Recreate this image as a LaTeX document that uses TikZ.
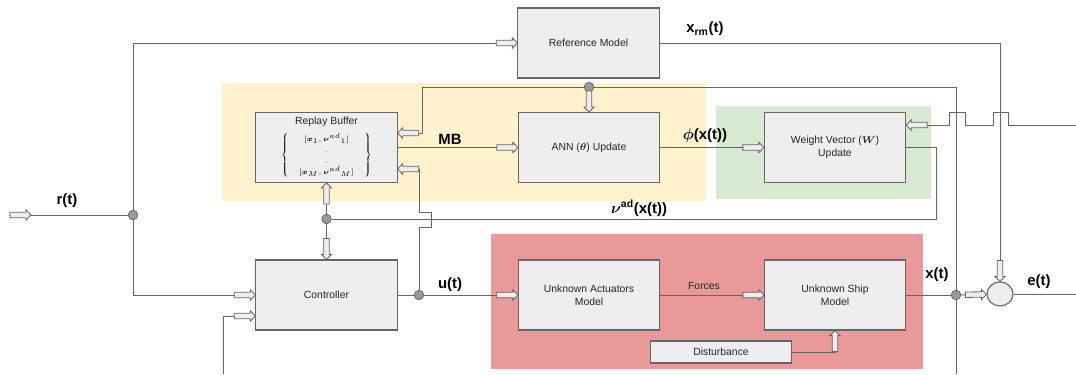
\documentclass[tikz,border=0pt]{standalone}
\usepackage{fontspec}
\setmainfont{Liberation Sans}
\usepackage{amsmath,bm}
\usetikzlibrary{shapes.geometric,decorations.markings,calc}
\definecolor{boxgray}{HTML}{EEEEEE}
\definecolor{linegray}{HTML}{666666}
\definecolor{dotgray}{HTML}{999999}
\definecolor{yelbg}{HTML}{FFF2CC}
\definecolor{grnbg}{HTML}{D9EAD3}
\definecolor{redbg}{HTML}{EA9999}
\tikzset{
  arrbody/.style={draw=linegray,fill=boxgray,line width=0.6pt},
  harr/.style={postaction={decorate,decoration={markings,mark=at position 1 with {\draw[arrbody] (-21,-2.7) -- (-5,-2.7) -- (-5,-5.2) -- (0,0) -- (-5,5.2) -- (-5,2.7) -- (-21,2.7) -- cycle;}}}},
  harrs/.style={postaction={decorate,decoration={markings,mark=at position 0.55cm with {\draw[arrbody] (-21,-2.7) -- (-5,-2.7) -- (-5,-5.2) -- (0,0) -- (-5,5.2) -- (-5,2.7) -- (-21,2.7) -- cycle;}}}}
}
\begin{document}
\begin{tikzpicture}[x=0.025cm,y=-0.025cm,
  blk/.style={draw=linegray,line width=0.8pt,fill=boxgray,minimum width=3.53cm,minimum height=1.75cm,align=center,inner sep=1pt,font=\fontsize{7.4}{9}\selectfont,text=black!85},
  wire/.style={draw=linegray,line width=0.7pt},
  jn/.style={circle,draw=linegray,fill=dotgray,line width=0.5pt,minimum size=0.24cm,inner sep=0},
  lbl/.style={font=\fontsize{10.6}{12}\selectfont\bfseries,inner sep=0},
  small/.style={font=\fontsize{7.4}{9}\selectfont,text=black!85,inner sep=0}]
\useasboundingbox (0,0) rectangle (1076,374);

\fill[yelbg] (222,83) rectangle (706,201);
\fill[grnbg] (716,106) rectangle (931,199);
\fill[redbg] (491,234) rectangle (923,369);

\node[blk] (refm) at (588.5,43) {Reference Model};
\node[blk] (rb) at (326.5,147.5) {};
\node[small] (rbt) at ($(rb.north)+(0,10)$) {Replay Buffer};
\node[inner sep=0,font=\fontsize{5.2}{6}\selectfont] (rbm) at ($(rb.center)+(0,8)$) {$\left\{\,\,\renewcommand{\arraystretch}{1.3}\begin{array}{c}[\boldsymbol{x}_1,\boldsymbol{\nu}^{ad}{}_1]\\ .\\ .\\ {}[\boldsymbol{x}_M,\boldsymbol{\nu}^{ad}{}_M]\end{array}\,\,\right\}$};
\node[blk] (ann) at (589,147.5) {ANN ($\boldsymbol{\theta}$) Update};
\node[blk] (wv) at (835,147.5) {Weight Vector ($\boldsymbol{W}$)\\Update};
\node[blk] (ctrl) at (326.5,295) {Controller};
\node[blk] (act) at (589,295) {Unknown Actuators\\Model};
\node[blk] (ship) at (835,295) {Unknown Ship\\Model};
\node[blk,minimum height=0.55cm] (dist) at (721,352) {Disturbance};
\node[ellipse,draw=linegray,line width=0.8pt,fill=boxgray,minimum width=0.65cm,minimum height=0.6cm,inner sep=0] (sum) at (1000,294) {};

\node[jn] (j1) at (133,215) {};
\node[jn] (j2) at (326.5,219) {};
\node[jn] (j3) at (419,295) {};
\node[jn] (j4) at (589,87) {};
\node[jn] (j5) at (956,295) {};

\coordinate (rin) at (9,215);
\coordinate (fb) at (223,374);
\coordinate (xout) at (956,374);
\coordinate (eout) at (1076,294);
\coordinate (win) at (1076,125);

\draw[wire,harrs] (rin) -- (j1);
\draw[wire,harr] (j1) |- (refm.west);
\draw[wire,harr] (j1) |- (ctrl.west);
\draw[wire,harr] (fb) |- ($(ctrl.west)+(0,21)$);
\draw[wire] (ctrl) -- (j3);
\draw[wire,harr] (j3) -- (act);
\draw[wire,harr] (j3) -- ++(0,-68) -- ++(12,0) -- ++(0,-15) -- ++(-12,0) |- ($(rb.east)+(0,21.5)$);
\draw[wire,harr] (rb) -- (ann);
\draw[wire,harr] (ann) -- (wv);
\draw[wire] (wv.east) -- ++(30,0) |- (j2);
\draw[wire,harr] (j2) -- (rb);
\draw[wire,harr] (j2) -- (ctrl);
\draw[wire,harr] (act) -- (ship);
\draw[wire,harr] (dist.east) -| (ship.south);
\draw[wire] (ship) -- (j5);
\draw[wire,harr] (j5) -- (sum);
\draw[wire] (j5) -- (xout);
\draw[wire] (j5) |- (j4);
\draw[wire,harr] (j4) -- (ann);
\draw[wire,harr] (j4) -| ($(rb.east)+(25,-14.5)$) -- ($(rb.east)+(0,-14.5)$);
\draw[wire,harr] (refm) -| (sum);
\draw[wire] (sum) -- (eout);
\draw[wire,harr] (win) -- (1008,125) -- (1008,112) -- (993,112) -- (993,125) -- (965,125) -- (965,112) -- (949,112) -- (949,125) -- ($(wv.east)+(0,-22.5)$);

\node[lbl] (lr) at (67,201) {r(t)};
\node[lbl] (lxrm) at (705,29) {x\textsubscript{rm}(t)};
\node[lbl] (lmb) at (450,139) {MB};
\node[lbl] (lphi) at (705,136) {$\boldsymbol{\phi}$(x(t))};
\node[lbl] (lnu) at (639,208) {$\boldsymbol{\nu}^{\textbf{ad}}$(x(t))};
\node[lbl] (lu) at (450,285) {u(t)};
\node[lbl] (lx) at (937,275) {x(t)};
\node[lbl] (le) at (1039,282) {e(t)};
\node[small] (lf) at (704,286) {Forces};
\end{tikzpicture}
\end{document}
